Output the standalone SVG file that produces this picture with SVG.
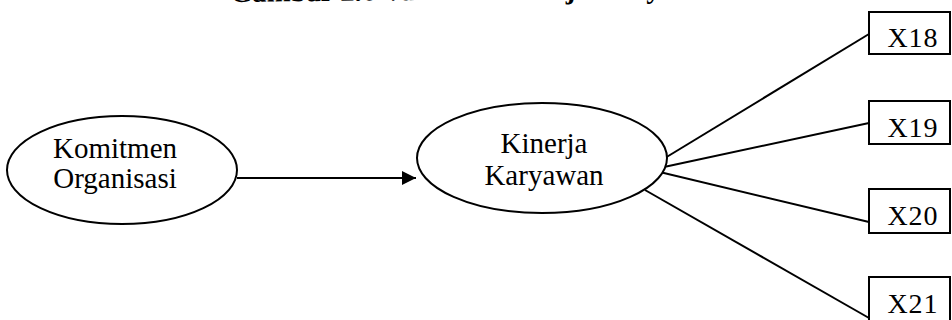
<svg xmlns="http://www.w3.org/2000/svg" width="952" height="320" viewBox="0 0 952 320">
  <style>
    .bg { fill: #ffffff; }
    .shape { fill: #ffffff; stroke: #000000; stroke-width: 2; }
    .edge { fill: none; stroke: #000000; stroke-width: 2; }
    .label { font-family: "Liberation Serif", "Times New Roman", serif; font-size: 29px; fill: #000000; text-anchor: middle; }
    .box-label { font-family: "Liberation Serif", "Times New Roman", serif; font-size: 28px; fill: #000000; text-anchor: middle; letter-spacing: 1px; }
    .title { font-family: "Liberation Serif", "Times New Roman", serif; font-size: 28.7px; font-weight: bold; fill: #000000; }
  </style>
  <defs>
    <marker id="arrowhead" viewBox="0 0 10 10" refX="10" refY="5" markerWidth="17" markerHeight="14" markerUnits="userSpaceOnUse" orient="auto">
      <path d="M0,0 L10,5 L0,10 Z" fill="#000000"/>
    </marker>
  </defs>

  <rect class="bg" x="0" y="0" width="952" height="320"/>

  <!-- caption, running off the top edge -->
  <text class="title" x="230" y="2" transform="rotate(-0.6 230 2)">Gambar 2.6 Variabel Kinerja Karyawan</text>

  <!-- connectors -->
  <g id="connectors">
    <line class="edge" x1="237" y1="178" x2="416" y2="178" marker-end="url(#arrowhead)"/>
    <line class="edge" x1="665" y1="158" x2="869" y2="34"/>
    <line class="edge" x1="664" y1="167" x2="869" y2="123"/>
    <line class="edge" x1="643" y1="168" x2="869" y2="222"/>
    <line class="edge" x1="645" y1="190" x2="869" y2="318"/>
  </g>

  <!-- latent variables -->
  <g id="komitmen-organisasi">
    <ellipse class="shape" cx="122" cy="170" rx="115" ry="54"/>
    <text class="label" x="115" y="158">Komitmen</text>
    <text class="label" x="115" y="188">Organisasi</text>
  </g>

  <g id="kinerja-karyawan">
    <ellipse class="shape" cx="542" cy="158" rx="125" ry="55"/>
    <text class="label" x="544" y="153">Kinerja</text>
    <text class="label" x="544" y="185">Karyawan</text>
  </g>

  <!-- indicators -->
  <g id="x18">
    <rect class="shape" x="869" y="12" width="81" height="42"/>
    <text class="box-label" x="913" y="47">X18</text>
  </g>
  <g id="x19">
    <rect class="shape" x="869" y="101" width="81" height="43"/>
    <text class="box-label" x="913" y="137">X19</text>
  </g>
  <g id="x20">
    <rect class="shape" x="869" y="189" width="81" height="44"/>
    <text class="box-label" x="913" y="225">X20</text>
  </g>
  <g id="x21">
    <rect class="shape" x="869" y="277" width="81" height="50"/>
    <text class="box-label" x="913" y="313">X21</text>
  </g>
</svg>
